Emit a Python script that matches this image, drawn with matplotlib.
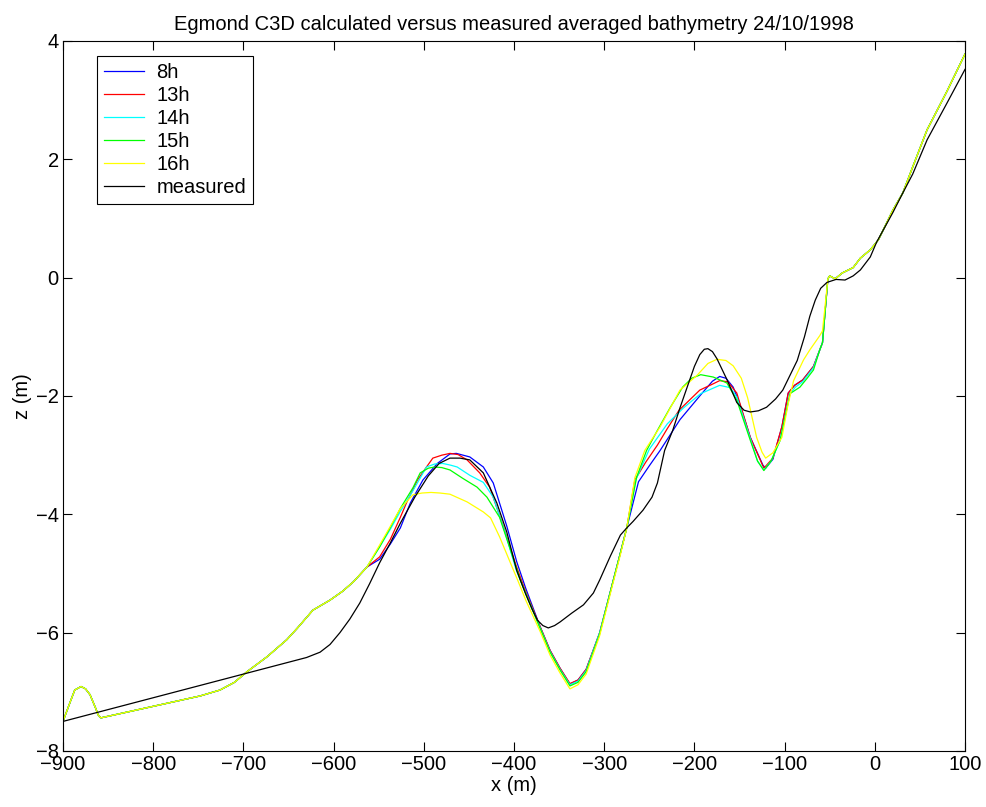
import matplotlib
matplotlib.use("Agg")
import matplotlib.pyplot as plt

plt.rcParams['font.family'] = ['Liberation Sans', 'DejaVu Sans']

# shared parts of the computed profiles (all runs coincide there)
x_left = [-900, -892, -887, -880, -875, -870, -864, -861, -858, -800, -748, -726, -710, -696, -674, -652, -640, -623, -604, -590, -578, -563]
z_left = [-7.5, -7.17, -6.97, -6.91, -6.95, -7.05, -7.27, -7.39, -7.44, -7.245, -7.07, -6.97, -6.84, -6.66, -6.41, -6.12, -5.92, -5.62, -5.45, -5.3, -5.14, -4.89]
x_right = [-52, -50, -44, -36, -24, -16, -5, 4, 20, 31, 42, 58, 80, 100]
z_right = [-0.02, 0.03, -0.02, 0.08, 0.17, 0.33, 0.47, 0.64, 1.14, 1.43, 1.87, 2.5, 3.15, 3.78]

# 8h
x_8h = [-549, -537, -526, -515, -501, -485, -471, -464, -449, -434, -423, -408, -397, -387, -371,
        -360, -349, -338, -329, -320, -305, -290, -282, -275, -262, -250, -238, -216, -193, -180,
        -172, -165, -157, -150, -138, -124, -121, -113, -103, -96, -89, -80, -68, -61, -58]
z_8h = [-4.76, -4.5, -4.23, -3.81, -3.42, -3.14, -2.98, -2.97, -3.03, -3.2, -3.47, -4.2, -4.8, -5.25, -5.9,
        -6.3, -6.6, -6.87, -6.8, -6.62, -6.0, -5.12, -4.65, -4.23, -3.45, -3.18, -2.92, -2.4, -1.98, -1.75,
        -1.67, -1.7, -1.85, -2.12, -2.7, -3.17, -3.22, -3.07, -2.52, -1.95, -1.82, -1.73, -1.5, -1.22, -1.1]

# 13h
x_13h = [-549, -537, -526, -519, -507, -497, -490, -480, -471, -462, -452, -438, -427, -412, -398,
         -388, -371, -360, -349, -338, -329, -320, -305, -290, -282, -275, -266, -254, -241, -230,
         -217, -194, -180, -172, -163, -153, -138, -123, -113, -103, -96, -89, -80, -68, -61, -58]
z_13h = [-4.72, -4.42, -4.05, -3.8, -3.42, -3.2, -3.05, -3.0, -2.97, -2.99, -3.08, -3.3, -3.54, -4.2, -4.85,
         -5.27, -5.9, -6.3, -6.6, -6.86, -6.8, -6.62, -6.0, -5.12, -4.65, -4.23, -3.42, -3.12, -2.83, -2.55,
         -2.24, -1.9, -1.8, -1.74, -1.76, -1.95, -2.7, -3.22, -3.05, -2.52, -1.95, -1.82, -1.73, -1.5, -1.22, -1.1]

# 14h
x_14h = [-549, -537, -526, -512, -497, -488, -479, -470, -463, -449, -434, -423, -410, -398, -388,
         -371, -360, -349, -338, -329, -320, -305, -290, -282, -275, -265, -250, -230, -212, -193,
         -172, -160, -153, -138, -130, -123, -115, -105, -94, -88, -80, -68, -61, -58]
z_14h = [-4.55, -4.25, -3.95, -3.6, -3.2, -3.15, -3.14, -3.17, -3.2, -3.34, -3.46, -3.71, -4.3, -4.92, -5.3,
         -5.92, -6.32, -6.62, -6.88, -6.82, -6.64, -6.0, -5.12, -4.65, -4.23, -3.42, -2.9, -2.47, -2.2, -1.96,
         -1.82, -1.86, -2.02, -2.72, -3.1, -3.25, -3.1, -2.75, -1.96, -1.85, -1.76, -1.52, -1.22, -1.1]

# 15h
x_15h = [-549, -537, -526, -512, -504, -495, -488, -480, -471, -457, -441, -430, -416, -404, -392,
         -371, -360, -349, -338, -329, -320, -305, -290, -282, -275, -264, -253, -241, -227, -213,
         -203, -193, -179, -164, -153, -138, -130, -123, -115, -105, -94, -83, -75, -68, -61, -58]
z_15h = [-4.55, -4.22, -3.9, -3.55, -3.3, -3.22, -3.2, -3.21, -3.25, -3.39, -3.54, -3.71, -4.05, -4.6, -5.15,
         -5.93, -6.33, -6.63, -6.9, -6.84, -6.66, -6.02, -5.12, -4.65, -4.23, -3.37, -2.92, -2.58, -2.2, -1.85,
         -1.7, -1.64, -1.68, -1.78, -2.07, -2.75, -3.1, -3.26, -3.1, -2.75, -1.96, -1.85, -1.7, -1.56, -1.22, -1.1]

# 16h
x_16h = [-549, -537, -526, -512, -502, -492, -482, -471, -452, -434, -426, -416, -404, -396, -387,
         -371, -360, -349, -338, -329, -320, -305, -290, -282, -275, -266, -255, -238, -216, -197,
         -185, -175, -165, -157, -148, -141, -131, -125, -121, -113, -103, -96, -90, -79, -72, -61, -58]
z_16h = [-4.52, -4.2, -3.9, -3.67, -3.64, -3.63, -3.64, -3.66, -3.79, -3.96, -4.06, -4.38, -4.82, -5.11, -5.45,
         -5.98, -6.38, -6.68, -6.95, -6.88, -6.7, -6.05, -5.15, -4.68, -4.23, -3.38, -2.92, -2.52, -1.9, -1.65,
         -1.45, -1.38, -1.4, -1.49, -1.7, -2.03, -2.7, -2.95, -3.05, -2.96, -2.7, -2.13, -1.74, -1.39, -1.22, -0.98, -0.9]

# measured profile
x_meas = [-900, -630, -615, -604, -593, -582, -571, -560, -549, -537, -526, -510, -495, -483, -471,
          -460, -449, -434, -419, -408, -397, -387, -380, -374, -368, -362, -355, -349, -336, -323,
          -312, -305, -293, -282, -275, -268, -257, -247, -241, -233, -224, -216, -208, -200, -194,
          -189, -185, -180, -175, -164, -153, -145, -138, -129, -120, -110, -102, -94, -86, -78, -72,
          -66, -60, -53, -43, -33, -24, -16, -5, 2, 20, 31, 42, 58, 80, 100]
z_meas = [-7.5, -6.42, -6.33, -6.2, -6.0, -5.77, -5.5, -5.17, -4.82, -4.48, -4.15, -3.71, -3.35, -3.14, -3.05,
          -3.05, -3.08, -3.3, -3.81, -4.3, -4.95, -5.35, -5.6, -5.79, -5.88, -5.92, -5.88, -5.82, -5.67, -5.53,
          -5.33, -5.11, -4.7, -4.35, -4.23, -4.12, -3.93, -3.71, -3.47, -2.92, -2.58, -2.2, -1.85, -1.5, -1.3,
          -1.21, -1.2, -1.25, -1.37, -1.72, -2.11, -2.24, -2.27, -2.25, -2.19, -2.05, -1.9, -1.65, -1.4, -1.0, -0.65,
          -0.38, -0.18, -0.08, -0.03, -0.04, 0.03, 0.13, 0.35, 0.6, 1.1, 1.43, 1.75, 2.33, 2.95, 3.52]

runs = [('8h', x_8h, z_8h, (0, 0, 1)),
        ('13h', x_13h, z_13h, (1, 0, 0)),
        ('14h', x_14h, z_14h, (0, 1, 1)),
        ('15h', x_15h, z_15h, (0, 1, 0)),
        ('16h', x_16h, z_16h, (1, 1, 0))]

fig = plt.figure(figsize=(9.86, 8.07), dpi=100)
ax = fig.add_axes([0.0639, 0.0694, 0.9148, 0.8798])

for name, xs, zs, col in runs:
    ax.plot(x_left + xs + x_right, z_left + zs + z_right, color=col, lw=0.9, label=name)
ax.plot(x_meas, z_meas, color='k', lw=0.9, label='measured')

ax.set_xlim(-900, 100)
ax.set_ylim(-8, 4)
ax.set_xticks(range(-900, 101, 100))
ax.set_yticks(range(-8, 5, 2))
ax.tick_params(direction='in', top=True, right=True, length=6.5, width=0.8, labelsize=14.5, pad=3)
for s in ax.spines.values():
    s.set_linewidth(0.8)

ax.set_title('Egmond C3D calculated versus measured averaged bathymetry 24/10/1998', fontsize=14.5, pad=8)
ax.set_xlabel('x (m)', fontsize=14.5, labelpad=1)
ax.set_ylabel('z (m)', fontsize=14.5, labelpad=3)

leg = ax.legend(loc='upper left', bbox_to_anchor=(0.0377, 0.979), borderaxespad=0, fontsize=14.5,
                fancybox=False, edgecolor='k', framealpha=1, handlelength=2.0, handletextpad=0.6,
                labelspacing=0.2, borderpad=0.35)
leg.get_frame().set_linewidth(0.8)

fig.savefig('out.png', dpi=100)
